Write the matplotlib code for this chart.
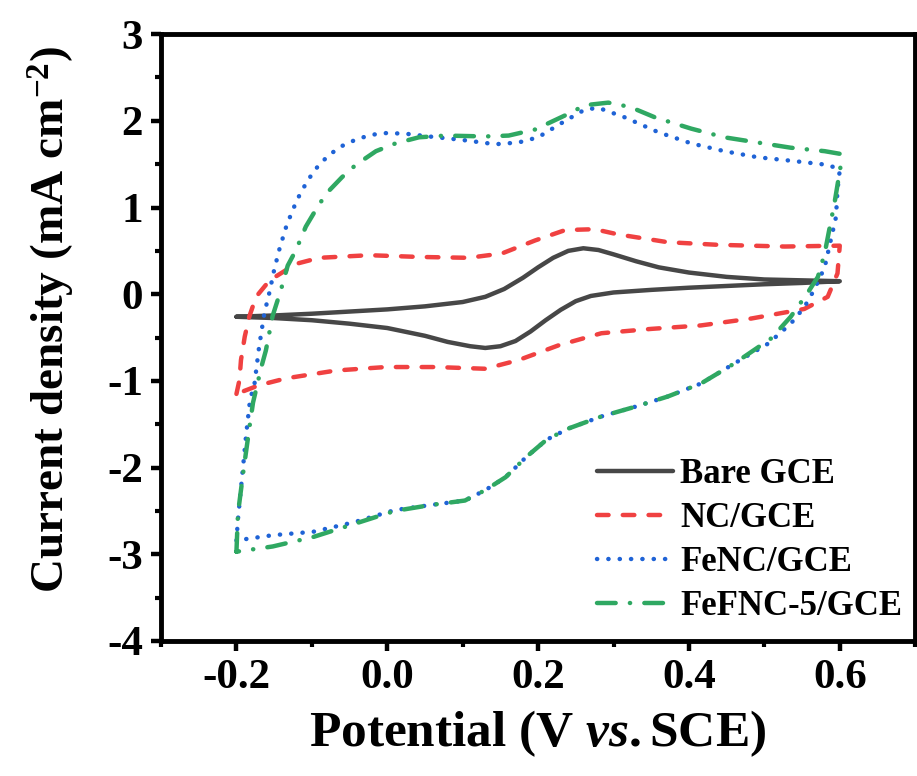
import matplotlib
matplotlib.use("Agg")
import matplotlib.pyplot as plt
from matplotlib.ticker import MultipleLocator

# CV curves (potential V vs SCE, current density mA cm-2)
bare_x = [-0.2, -0.15, -0.1, -0.05, 0.0, 0.05, 0.1, 0.13, 0.155, 0.18, 0.2, 0.22, 0.24, 0.26,
          0.28, 0.3, 0.33, 0.36, 0.4, 0.45, 0.5, 0.55, 0.6,
          0.55, 0.5, 0.45, 0.4, 0.35, 0.3, 0.27, 0.25, 0.23, 0.21, 0.19, 0.17, 0.15, 0.13, 0.11,
          0.08, 0.05, 0.0, -0.05, -0.1, -0.15, -0.2]
bare_y = [-0.26, -0.245, -0.225, -0.2, -0.175, -0.14, -0.09, -0.03, 0.06, 0.19, 0.31, 0.42, 0.50, 0.53,
          0.51, 0.46, 0.38, 0.31, 0.25, 0.20, 0.17, 0.16, 0.15,
          0.13, 0.115, 0.095, 0.075, 0.05, 0.02, -0.02, -0.08, -0.18, -0.30, -0.43, -0.54, -0.60, -0.62, -0.60,
          -0.55, -0.48, -0.39, -0.34, -0.30, -0.275, -0.26]

nc_x = [-0.2, -0.196, -0.194, -0.189, -0.183, -0.174, -0.156, -0.121, -0.09, -0.024, 0.042,
        0.108, 0.152, 0.196, 0.236, 0.275, 0.306, 0.372, 0.438, 0.527, 0.6, 0.597, 0.584, 0.553,
        0.483, 0.416, 0.35, 0.284, 0.227, 0.174, 0.13, 0.064, -0.002, -0.068, -0.134, -0.17, -0.2]
nc_y = [-1.15, -0.99, -0.76, -0.49, -0.26, -0.03, 0.16, 0.35, 0.42, 0.45, 0.43,
        0.42, 0.47, 0.62, 0.74, 0.75, 0.69, 0.60, 0.57, 0.55, 0.56, 0.24, -0.03, -0.17,
        -0.28, -0.36, -0.40, -0.45, -0.59, -0.76, -0.86, -0.84, -0.84, -0.88, -0.97, -1.05, -1.15]

fenc_x = [-0.2, -0.198, -0.193, -0.187, -0.182, -0.176, -0.17, -0.163, -0.156, -0.15, -0.143,
          -0.134, -0.125, -0.116, -0.105, -0.09, -0.075, -0.06, -0.04, -0.02, 0.0, 0.026, 0.055,
          0.099, 0.143, 0.174, 0.2, 0.236, 0.262, 0.28, 0.315, 0.359, 0.403, 0.447, 0.491, 0.535,
          0.586, 0.6, 0.597, 0.595, 0.588, 0.58, 0.566, 0.553, 0.535, 0.505, 0.46, 0.416, 0.372,
          0.328, 0.284, 0.24, 0.211, 0.184, 0.157, 0.13, 0.103, 0.059, 0.01, -0.044, -0.098, -0.152, -0.2]
fenc_y = [-2.84, -2.6, -2.15, -1.61, -1.22, -1.03, -0.61, -0.22, 0.03, 0.28, 0.52,
          0.78, 0.98, 1.15, 1.32, 1.50, 1.62, 1.71, 1.79, 1.84, 1.86, 1.85, 1.82,
          1.78, 1.73, 1.75, 1.81, 2.0, 2.13, 2.15, 2.04, 1.87, 1.74, 1.65, 1.58, 1.54,
          1.49, 1.43, 1.20, 0.89, 0.62, 0.31, 0.05, -0.15, -0.34, -0.57, -0.80, -1.03, -1.18,
          -1.30, -1.41, -1.55, -1.68, -1.88, -2.11, -2.26, -2.38, -2.43, -2.49, -2.63, -2.74, -2.78, -2.84]

fefnc_x = [-0.2, -0.198, -0.19, -0.182, -0.178, -0.167, -0.161, -0.152, -0.141, -0.132, -0.121,
           -0.108, -0.095, -0.081, -0.06, -0.042, -0.015, 0.011, 0.042, 0.077, 0.13, 0.161,
           0.196, 0.24, 0.262, 0.293, 0.322, 0.355, 0.403, 0.447, 0.491, 0.535, 0.58, 0.6,
           0.601, 0.593, 0.586, 0.58, 0.571, 0.557, 0.535, 0.509, 0.46, 0.416, 0.372, 0.328,
           0.284, 0.24, 0.211, 0.184, 0.157, 0.13, 0.103, 0.059, 0.01, -0.044, -0.098, -0.152, -0.2]
fefnc_y = [-2.97, -2.53, -1.99, -1.49, -1.25, -0.84, -0.65, -0.25, 0.05, 0.33, 0.51,
           0.78, 0.97, 1.16, 1.35, 1.49, 1.65, 1.74, 1.81, 1.83, 1.82, 1.83,
           1.90, 2.08, 2.18, 2.21, 2.16, 2.04, 1.91, 1.81, 1.75, 1.69, 1.65, 1.62,
           1.47, 1.05, 0.74, 0.47, 0.20, 0.01, -0.26, -0.51, -0.80, -1.03, -1.18, -1.30,
           -1.41, -1.55, -1.68, -1.88, -2.11, -2.26, -2.38, -2.43, -2.50, -2.65, -2.80, -2.91, -2.97]

labels = ["Bare GCE", "NC/GCE", "FeNC/GCE", "FeFNC-5/GCE"]

plt.rcParams["font.family"] = ["Liberation Serif", "DejaVu Serif"]
plt.rcParams["font.weight"] = "bold"
plt.rcParams["axes.unicode_minus"] = False
plt.rcParams["mathtext.fontset"] = "custom"
plt.rcParams["mathtext.rm"] = "Liberation Serif:bold"
plt.rcParams["mathtext.it"] = "Liberation Serif:italic:bold"
plt.rcParams["mathtext.bf"] = "Liberation Serif:bold"

fig = plt.figure(figsize=(9.17, 7.76), dpi=100)
ax = fig.add_axes([0.1756, 0.174, 0.8224, 0.782])

lw = 3.2
ax.plot(bare_x, bare_y, color="#474747", lw=lw, solid_capstyle="round",
        solid_joinstyle="round", label=labels[0])
ax.plot(nc_x, nc_y, color="#f04141", lw=lw, linestyle=(0, (2.6, 3.2)),
        dash_capstyle="round", label=labels[1])
ax.plot(fenc_x, fenc_y, color="#1f63d6", lw=lw, linestyle=(0, (0.05, 2.5)),
        dash_capstyle="round", label=labels[2])
ax.plot(fefnc_x, fefnc_y, color="#2fa862", lw=lw, linestyle=(0, (4.2, 3.2, 0.05, 3.2)),
        dash_capstyle="round", label=labels[3])

ax.set_xlim(-0.3, 0.7)
ax.set_ylim(-4, 3)
ax.xaxis.set_minor_locator(MultipleLocator(0.1))
ax.yaxis.set_major_locator(MultipleLocator(1))
ax.yaxis.set_minor_locator(MultipleLocator(0.5))
ax.set_xticks([-0.2, 0.0, 0.2, 0.4, 0.6])
ax.set_xticklabels(["-0.2", "0.0", "0.2", "0.4", "0.6"])

for s in ax.spines.values():
    s.set_linewidth(3.5)
ax.tick_params(which="major", direction="out", length=7, width=3.2, labelsize=31, pad=6)
ax.tick_params(which="minor", direction="out", length=4.5, width=3.0)

ax.set_xlabel("Potential (V $\\mathit{vs.}$SCE)", fontsize=37, fontweight="bold", labelpad=8)
ax.set_ylabel("Current density (mA cm$^{-2}$)", fontsize=34, fontweight="bold")
ax.yaxis.set_label_coords(-0.112, 0.53)

leg = ax.legend(loc="upper left", bbox_to_anchor=(0.578, 0.302), frameon=False,
                fontsize=25, handlelength=2.2, handletextpad=0.2, labelspacing=0.32,
                borderpad=0, borderaxespad=0)
for t in leg.get_texts():
    t.set_fontweight("bold")

fig.savefig("out.png", dpi=100)
